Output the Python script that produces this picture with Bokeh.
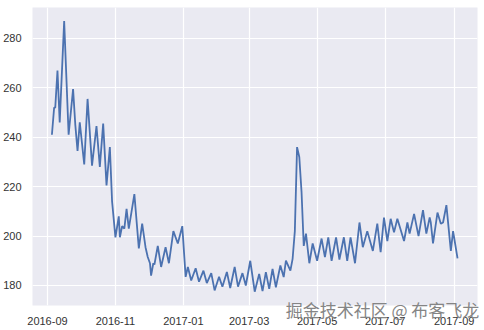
import pandas as pd
from bokeh.plotting import figure
from bokeh.models import (Range1d, MonthsTicker, DatetimeTickFormatter, FixedTicker)
from bokeh.embed import file_html
from bokeh.resources import INLINE

dates = [
    "2016-09-05", "2016-09-07", "2016-09-08", "2016-09-10", "2016-09-12", "2016-09-16",
    "2016-09-20", "2016-09-24", "2016-09-26", "2016-09-28", "2016-09-30", "2016-10-04",
    "2016-10-07", "2016-10-11", "2016-10-15", "2016-10-18", "2016-10-21", "2016-10-24",
    "2016-10-27", "2016-10-29", "2016-11-01", "2016-11-04", "2016-11-05", "2016-11-07",
    "2016-11-09", "2016-11-11", "2016-11-13", "2016-11-18", "2016-11-22", "2016-11-25",
    "2016-11-28", "2016-11-30", "2016-12-02", "2016-12-03", "2016-12-05", "2016-12-06",
    "2016-12-09", "2016-12-12", "2016-12-16", "2016-12-19", "2016-12-23", "2016-12-27",
    "2016-12-31", "2017-01-03", "2017-01-05", "2017-01-08", "2017-01-12", "2017-01-15",
    "2017-01-19", "2017-01-22", "2017-01-26", "2017-01-29", "2017-02-02", "2017-02-05",
    "2017-02-09", "2017-02-12", "2017-02-16", "2017-02-19", "2017-02-23", "2017-02-26",
    "2017-03-02", "2017-03-06", "2017-03-10", "2017-03-13", "2017-03-16", "2017-03-19",
    "2017-03-22", "2017-03-25", "2017-03-29", "2017-04-01", "2017-04-03", "2017-04-07",
    "2017-04-09", "2017-04-11", "2017-04-13", "2017-04-15", "2017-04-17", "2017-04-19",
    "2017-04-21", "2017-04-24", "2017-04-27", "2017-05-01", "2017-05-05", "2017-05-08",
    "2017-05-11", "2017-05-14", "2017-05-18", "2017-05-21", "2017-05-25", "2017-05-28",
    "2017-05-31", "2017-06-04", "2017-06-08", "2017-06-11", "2017-06-15", "2017-06-20",
    "2017-06-24", "2017-06-27", "2017-06-30", "2017-07-03", "2017-07-06", "2017-07-09",
    "2017-07-12", "2017-07-18", "2017-07-21", "2017-07-23", "2017-07-27", "2017-07-31",
    "2017-08-04", "2017-08-07", "2017-08-10", "2017-08-11", "2017-08-13", "2017-08-17",
    "2017-08-20", "2017-08-22", "2017-08-25", "2017-08-29", "2017-08-31", "2017-09-04",
]
values = [
    241, 252, 252, 267, 246, 287,
    241, 259.5, 245, 234.5, 246, 229,
    255.5, 228.5, 244.5, 228, 245.5, 220.5,
    236, 214, 199.5, 208, 199.5, 204,
    203, 211, 203, 217, 195, 205,
    195.5, 191.5, 189, 184, 189, 188.5,
    196, 187.5, 195.5, 189, 202, 197,
    204, 183.5, 187.5, 182, 187, 181.5,
    186, 181, 185, 178, 183.5, 179.5,
    185.5, 179, 187.5, 179.5, 185, 180,
    190, 177.5, 184.7, 177.7, 185.4, 178.6,
    186.7, 179.3, 188.1, 183.4, 190.1, 186,
    190.8, 202, 236, 232, 218, 196,
    201, 189, 197, 190, 199, 191.5,
    199.5, 190, 199.5, 190.5, 199.5, 190,
    199.5, 189, 205.5, 195.5, 202, 194,
    205, 193.5, 207.5, 198, 207, 201.5,
    207, 198, 205.5, 201, 209, 200,
    210.5, 201, 207.5, 205.5, 197, 209.5,
    205, 205.5, 212.5, 194, 202, 191,
]
y_ticks = [180, 200, 220, 240, 260, 280]
watermark = "掘金技术社区 @ 布客飞龙"

x = pd.to_datetime(dates)

p = figure(width=484, height=330, x_axis_type="datetime", output_backend="svg",
           toolbar_location=None,
           x_range=Range1d(pd.Timestamp("2016-08-18 14:00"), pd.Timestamp("2017-09-21 22:00")),
           y_range=Range1d(171.9, 292.5),
           min_border_left=31, min_border_right=7, min_border_top=7, min_border_bottom=25)
p.background_fill_color = "#EAEAF2"
p.border_fill_color = "white"
p.outline_line_color = None

p.line(x, values, line_color="#4C72B0", line_width=1.8)

p.xaxis.ticker = MonthsTicker(months=[0, 2, 4, 6, 8, 10])
p.xaxis.formatter = DatetimeTickFormatter(months="%Y-%m", days="%Y-%m", years="%Y-%m")
p.yaxis.ticker = FixedTicker(ticks=y_ticks)
for ax in (p.xaxis[0], p.yaxis[0]):
    ax.axis_line_color = None
    ax.major_tick_line_color = None
    ax.minor_tick_line_color = None
    ax.major_label_text_font = "Liberation Sans"
    ax.major_label_text_font_size = "11px"
    ax.major_label_text_color = "#333333"
    ax.major_label_standoff = 5
p.xgrid.grid_line_color = "white"
p.ygrid.grid_line_color = "white"
p.xgrid.grid_line_width = 1.2
p.ygrid.grid_line_width = 1.2

# watermark drawn as the x-axis label; ideographic spaces push it to the right end
xa = p.xaxis[0]
xa.axis_label = "\u3000" * 15 + watermark
xa.axis_label_align = "center"
xa.axis_label_standoff = -31
xa.axis_label_text_font = "Noto Sans CJK SC"
xa.axis_label_text_font_size = "17px"
xa.axis_label_text_font_style = "normal"
xa.axis_label_text_color = "#858585"

open("out.html", "w").write(file_html(p, INLINE))
